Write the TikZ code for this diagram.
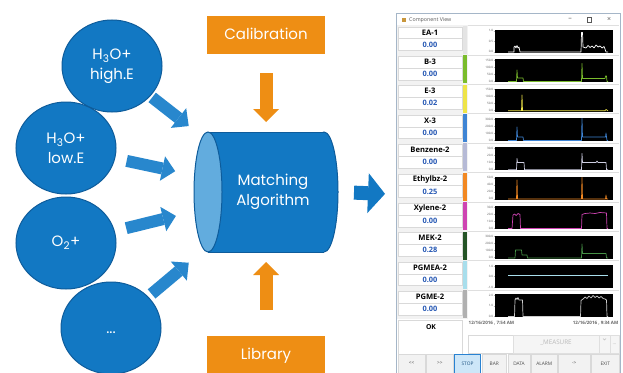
\documentclass[tikz,border=0pt]{standalone}
\usepackage{fontspec}
\setmainfont{Poppins}
\newfontfamily\uifont{Open Sans}
\usetikzlibrary{shapes.geometric,arrows.meta,calc}

\definecolor{algblue}{RGB}{18,120,195}
\definecolor{algedge}{RGB}{14,92,155}
\definecolor{algface}{RGB}{98,172,222}
\definecolor{arrowblue}{RGB}{40,135,205}
\definecolor{calorange}{RGB}{238,142,20}
\definecolor{valblue}{RGB}{38,88,180}
\definecolor{winedge}{RGB}{165,182,200}
\definecolor{stopfill}{RGB}{205,230,248}
\definecolor{stopedge}{RGB}{40,130,210}
\definecolor{barea}{RGB}{228,228,228}
\definecolor{barb}{RGB}{122,188,44}
\definecolor{bare}{RGB}{238,228,72}
\definecolor{barx}{RGB}{62,132,212}
\definecolor{barbz}{RGB}{182,186,214}
\definecolor{bareb}{RGB}{242,136,34}
\definecolor{barxy}{RGB}{206,68,178}
\definecolor{barmek}{RGB}{36,84,38}
\definecolor{barpga}{RGB}{168,222,236}
\definecolor{barpg}{RGB}{176,176,176}
\definecolor{trmek}{RGB}{70,145,70}
\definecolor{trbz}{RGB}{205,205,225}
\definecolor{trpg}{RGB}{205,205,205}
\definecolor{iconcol}{RGB}{200,150,60}

\begin{document}
\begin{tikzpicture}[x=1pt,y=-1pt,
  bubble/.style={ellipse, draw=algedge, line width=1pt, fill=algblue, text=white,
    minimum width=100pt, minimum height=92pt, inner sep=0pt, align=center,
    font=\fontsize{15}{20}\selectfont},
  orangebox/.style={fill=calorange, text=white, minimum width=118pt, minimum height=38pt,
    text height=11pt, text depth=3pt, font=\fontsize{15}{18}\selectfont},
  bluearrow/.style={draw=arrowblue, line width=12pt, -{Triangle[width=25pt,length=13pt,line width=0pt]}},
  orangearrow/.style={draw=calorange, line width=13pt, -{Triangle[width=26pt,length=13pt,line width=0pt]}},
  bigarrow/.style={draw=algblue, line width=14pt, -{Triangle[width=40pt,length=17pt,line width=0pt]}},
  cellbox/.style={fill=white, draw=gray!30, line width=.4pt},
  namelab/.style={font=\uifont\bfseries\fontsize{7.6}{8}\selectfont},
  vallab/.style={font=\uifont\bfseries\fontsize{7.4}{8}\selectfont, text=valblue},
  ticklab/.style={anchor=east, inner sep=.3pt, font=\uifont\fontsize{3}{3.2}\selectfont, text=gray!70!black},
  stamp/.style={inner sep=0pt, font=\uifont\bfseries\fontsize{4.5}{5}\selectfont, text=gray!80!black},
  btnlab/.style={font=\uifont\fontsize{4.8}{5}\selectfont, text=gray!60!black},
  trace/.style={line width=.7pt, line join=round}]
\useasboundingbox (0,0) rectangle (623,372);
\fill[white] (0,0) rectangle (623,372);

\node[bubble] (h1) at (112,66) {H\textsubscript{3}O+\\high.E};
\node[bubble] (h2) at (66,148) {H\textsubscript{3}O+\\low.E};
\node[bubble] (h3) at (66,243) {O\textsubscript{2}+};
\node[bubble] (h4) at (111,328) {\vphantom{O}...};

\filldraw[fill=algblue, draw=algedge, line width=1pt] (324,192) ellipse [x radius=14, y radius=60];
\fill[algblue] (208,132) rectangle (324,252);
\draw[algedge, line width=1pt] (208,132) -- (324,132) (208,252) -- (324,252);
\filldraw[fill=algface, draw=algedge, line width=1pt] (208,192) ellipse [x radius=14, y radius=60];
\node[text=white, align=center, font=\fontsize{15}{20}\selectfont] (alg) at (273,192) {Matching\\Algorithm};
\coordinate (algtop) at (266,132);
\coordinate (algbot) at (266,252);
\coordinate (algright) at (338,192);

\node[orangebox] (cal) at (266,35) {Calibration};
\node[orangebox] (lib) at (266,355) {Library};

\draw[bluearrow] ($(h1)!51pt!(alg)$) -- ($(alg)!107pt!(h1)$);
\draw[bluearrow] ($(h2)!62pt!(alg)$) -- ($(alg)!100pt!(h2)$);
\draw[bluearrow] ($(h3)!62pt!(alg)$) -- ($(alg)!100pt!(h3)$);
\draw[bluearrow] ($(h4)!53pt!(alg)$) -- ($(alg)!110pt!(h4)$);
\draw[orangearrow] ($(cal.south)!19pt!(algtop)$) -- ($(algtop)!10pt!(cal.south)$);
\draw[orangearrow] ($(lib.north)!26pt!(algbot)$) -- ($(algbot)!10pt!(lib.north)$);

\node[draw=winedge, fill=white, line width=.6pt, minimum width=224pt, minimum height=362pt,
  anchor=north west, inner sep=0pt] (win) at (396,13) {};
\draw[bigarrow] ($(algright)!16pt!(win.west)$) -- ($(win.west)!11pt!(algright)$);

\fill[iconcol] (401.5,17.5) rectangle (406,22);
\node[anchor=west, inner sep=0pt, font=\uifont\fontsize{5.3}{6}\selectfont, text=gray!70!black] (title) at (409,20) {Component View};
\node[font=\uifont\fontsize{7}{7}\selectfont, text=gray!70!black] (wmin) at (570,19.5) {–};
\draw[gray!70!black, line width=.4pt] (587,17.5) rectangle (591.5,22) coordinate (wmax);
\node[font=\uifont\fontsize{7}{7}\selectfont, text=gray!70!black] (wclose) at (609,19.5) {×};

\fill[gray!10] (397,25) rectangle (468,319);
\foreach \i/\nm/\val/\col/\tk/\dy in {%
  0/EA-1/0.00/barea/{1.0,0.5,0.0}/10.5,
  1/B-3/0.00/barb/{150.0,100.0,50.0,0.0}/7,
  2/E-3/0.02/bare/{150.0,100.0,50.0,0.0}/7,
  3/X-3/0.00/barx/{300.0,200.0,100.0,0.0}/7,
  4/Benzene-2/0.00/barbz/{30.0,20.0,10.0,0.0}/7,
  5/Ethylbz-2/0.25/bareb/{60.0,40.0,20.0,0.0}/7,
  6/Xylene-2/0.00/barxy/{30.0,20.0,10.0,0.0}/7,
  7/MEK-2/0.28/barmek/{300.0,200.0,100.0,0.0}/7,
  8/PGMEA-2/0.00/barpga/{1.0,0.0,-1.0}/10.5,
  9/PGME-2/0.00/barpg/{2.0,1.0,0.0}/10.5}{
  \pgfmathsetmacro\rs{26.8+29.4*\i}
  \draw[gray!25] (468,{\rs-1.5}) -- (619,{\rs-1.5});
  \draw[cellbox] (398,\rs) rectangle (462,{\rs+11.7});
  \draw[cellbox] (398,{\rs+11.7}) rectangle (462,{\rs+23.5});
  \node[namelab] (nm\i) at (430,{\rs+5.6}) {\nm};
  \node[vallab] (val\i) at (430,{\rs+17.6}) {\val};
  \fill[\col] (462.5,{\rs-1}) rectangle (467,{\rs+27});
  \fill[black] (495,{\rs+3}) rectangle (613,{\rs+26});
  \foreach \t [count=\k from 0] in \tk {
    \draw[gray!60, line width=.3pt] (493.5,{\rs+4+\k*\dy}) -- (495,{\rs+4+\k*\dy});
    \node[ticklab] (tk\i-\k) at (493.5,{\rs+4+\k*\dy}) {\t};
  }
}

\draw[trace, white] (508,52) -- (514,52) -- (514,47) -- (515,46) -- (516,48) -- (517,45.5) -- (518,48) -- (519,47) -- (520,52)
  -- (581,52) -- (581.5,32.5) -- (582.5,32.5) -- (583,47) -- (586,48) -- (588,45.5) -- (590,47.5) -- (592,46) -- (594,48)
  -- (596,45) -- (598,47) -- (600,46) -- (602,48) -- (604,46.5) -- (605,49) -- (606,52) -- (608,52);
\draw[trace, barb] (508,81.5) -- (516.5,81.5) -- (517,70) -- (517.5,78) -- (523,78) -- (523.5,81.5) -- (581.5,81.5)
  -- (582,63.5) -- (582.5,78.5) -- (605,78.5) -- (605.5,76) -- (606.5,76) -- (607,81.5) -- (608,81.5);
\draw[trace, bare] (508,110.8) -- (521.5,110.8) -- (522,95) -- (522.5,110.8) -- (605,110.8) -- (606,109.5) -- (608,110.8);
\draw[trace, barx] (508,140.5) -- (516.5,140.5) -- (517,127) -- (517.5,137) -- (523,137) -- (523.5,140.5) -- (581.5,140.5)
  -- (582,118.5) -- (582.5,137) -- (605.5,137) -- (606,133) -- (606.5,137) -- (607,140.5) -- (608,140.5);
\draw[trace, trbz] (508,169.8) -- (516.5,169.8) -- (517,158.5) -- (517.5,162.5) -- (524,162.5) -- (524.5,169.8) -- (581.5,169.8)
  -- (582,153.5) -- (582.5,162.5) -- (596,162.5) -- (597,161) -- (598,162.5) -- (606,162.5) -- (606.5,169.8) -- (608,169.8);
\draw[trace, bareb] (508,199) -- (516.5,199) -- (517,180) -- (517.5,199) -- (581.5,199) -- (582,177.5) -- (582.5,199)
  -- (605.5,199) -- (606,195) -- (606.5,199) -- (608,199);
\draw[trace, barxy] (508,228.5) -- (512,228.5) -- (513,215) -- (514.5,214) -- (516,215.5) -- (518,213.5) -- (520,214.5)
  -- (520.5,228.5) -- (581.5,228.5) -- (582,214.5) -- (585,213.5) -- (590,213) -- (595,213.5) -- (600,212.5) -- (606.5,213)
  -- (607,228.5) -- (608,228.5);
\draw[trace, trmek] (508,258) -- (515,258) -- (515.5,250) -- (521.5,250) -- (522,255) -- (527,255) -- (527.5,258)
  -- (581.5,258) -- (582,244) -- (582.5,253.5) -- (606,253.5) -- (606.5,258) -- (608,258);
\draw[trace, barpga, line width=1.4pt] (508,275.7) -- (608,275.7);
\draw[trace, trpg] (508,316.5) -- (514.5,316.5) -- (515,300) -- (516,298) -- (517,299.5) -- (518,297.5) -- (519,300)
  -- (522.5,300) -- (523,316.5) -- (580.5,316.5) -- (581,300.5) -- (583,299) -- (585,297) -- (587,298.5) -- (589,296)
  -- (591,298) -- (593,295.5) -- (595,297.5) -- (597,296) -- (599,298) -- (601,296.5) -- (603,298.5) -- (605,299)
  -- (606.5,300) -- (607,316.5) -- (608,316.5);

\draw[cellbox] (398,320) rectangle (462,354);
\node[font=\uifont\bfseries\fontsize{6.8}{7}\selectfont] (ok) at (431,327.5) {OK};
\node[stamp, anchor=west] (tleft) at (468.5,323) {12/16/2016 , 7:54 AM};
\node[stamp, anchor=east] (tright) at (618.5,323) {12/16/2016 , 9:34 AM};
\draw[cellbox] (468,335) rectangle (513,353);
\filldraw[fill=gray!8, draw=gray!25, line width=.4pt] (513,335) rectangle (599,353);
\node[font=\uifont\fontsize{6.3}{7}\selectfont, text=gray!55] (measure) at (556,342.5) {\_MEASURE};
\filldraw[fill=gray!8, draw=gray!25, line width=.4pt] (599,335) rectangle (610,353);
\draw[gray!50, line width=.4pt] (603,338.5) -- (604.5,340) -- (606,338.5);
\filldraw[fill=gray!8, draw=gray!25, line width=.4pt] (610,335) rectangle (619,353);
\node[font=\uifont\fontsize{5}{5}\selectfont, text=gray!60] (dots) at (614.5,344) {...};

\foreach \a/\b/\txt [count=\n] in {398/425/{<<}, 426.5/453/{>>}, 482/506.5/BAR, 508/530/DATA,
  531.5/557/ALARM, 558.5/590/{->}, 591.5/619/EXIT}{
  \filldraw[fill=gray!10, draw=gray!30, line width=.4pt] (\a,354.5) rectangle (\b,374);
  \node[btnlab] (btn\n) at ({(\a+\b)/2},363.5) {\txt};
}
\filldraw[fill=stopfill, draw=stopedge, line width=.5pt] (454.5,354.5) rectangle (480.5,374);
\node[btnlab, text=stopedge!60!black] (stop) at (467.5,363.5) {STOP};
\end{tikzpicture}
\end{document}
